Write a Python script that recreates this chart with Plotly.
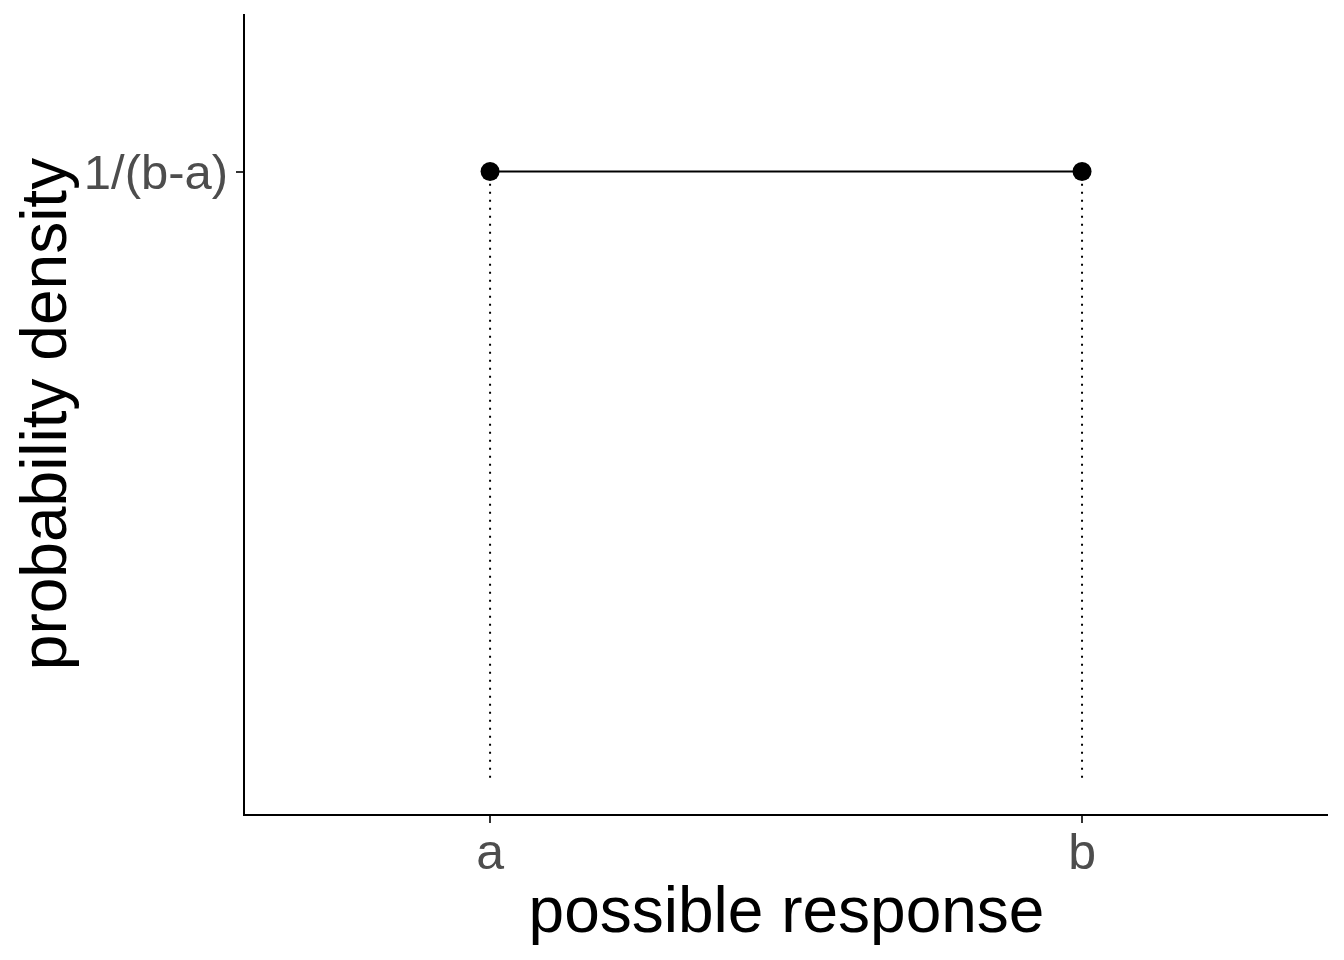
import plotly.graph_objects as go

# data
x_labels = ["a", "b"]
x_vals = [0, 1]
density = [1, 1]
y_label = "1/(b-a)"
floor = [0, 0]

fig = go.Figure()

# dotted drop lines
for xv, yv, fl in zip(x_vals, density, floor):
    fig.add_trace(go.Scatter(x=[xv, xv], y=[fl, yv], mode="lines",
                             line=dict(color="black", width=2, dash="2px,6px"),
                             showlegend=False, hoverinfo="skip"))

# horizontal line with points
fig.add_trace(go.Scatter(x=x_vals, y=density, mode="lines+markers",
                         line=dict(color="black", width=2),
                         marker=dict(color="black", size=19),
                         showlegend=False))

font_family = "Liberation Sans, Arial, sans-serif"

fig.update_layout(
    width=1336, height=952,
    margin=dict(l=237, r=16, t=6, b=146),
    paper_bgcolor="white", plot_bgcolor="white",
    font=dict(family=font_family),
    xaxis=dict(
        range=[-0.414, 1.4155], showgrid=False, zeroline=False,
        showline=True, linecolor="black", linewidth=2,
        tickmode="array", tickvals=x_vals, ticktext=x_labels,
        ticks="outside", ticklen=7, tickwidth=2, tickcolor="#333333",
        tickfont=dict(size=50, color="#4D4D4D"),
        ticklabelstandoff=-14,
        title=dict(text="possible response", font=dict(size=64, color="black"), standoff=8),
    ),
    yaxis=dict(
        range=[-0.06, 1.26], showgrid=False, zeroline=False,
        showline=True, linecolor="black", linewidth=2,
        tickmode="array", tickvals=[1], ticktext=[y_label],
        ticks="outside", ticklen=7, tickwidth=2, tickcolor="#333333",
        tickfont=dict(size=49, color="#4D4D4D"),
        ticklabelstandoff=-2,
        title=dict(text="probability density", font=dict(size=64, color="black"), standoff=6),
    ),
)

fig.write_html("out.html")
